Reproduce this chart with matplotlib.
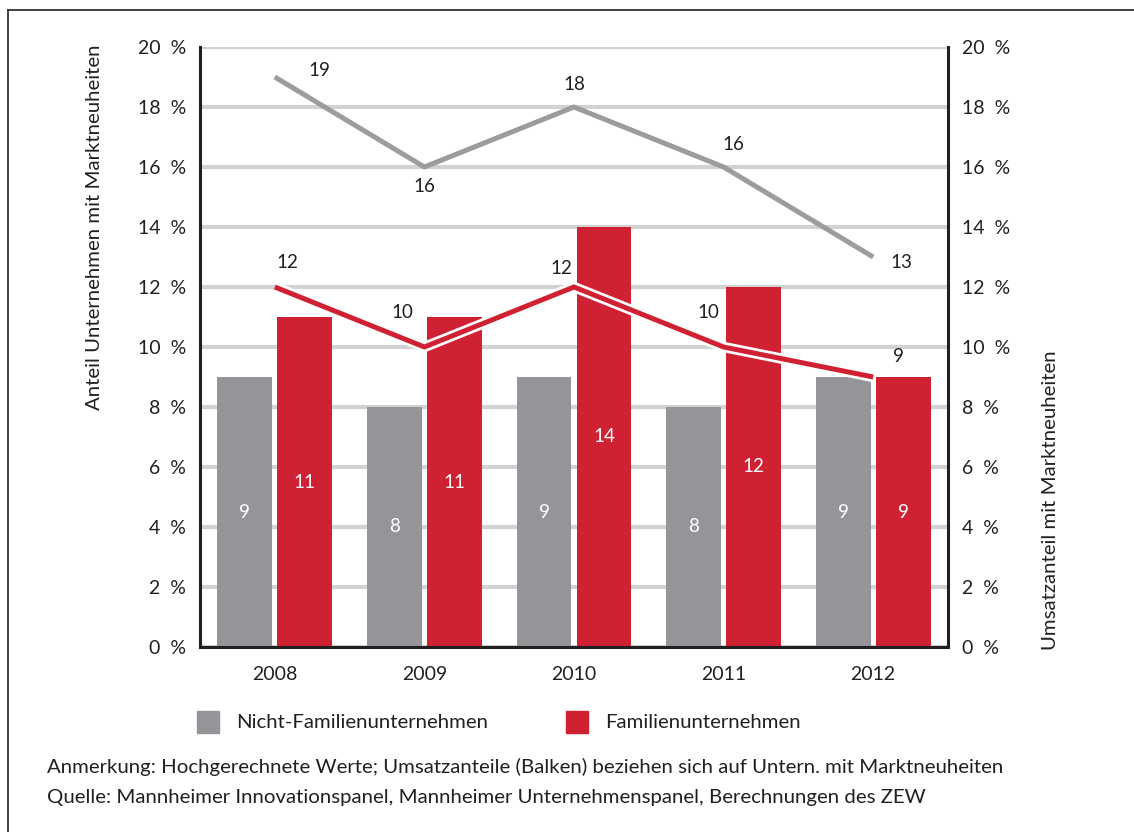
import numpy as np
import matplotlib
matplotlib.use("Agg")
from matplotlib import pyplot as plt
from matplotlib import patheffects as pe
from matplotlib.patches import Rectangle
from matplotlib.lines import Line2D

years = ['2008', '2009', '2010', '2011', '2012']
# bars: Umsatzanteil mit Marktneuheiten (%)
umsatz_nicht_fam = [9, 8, 9, 8, 9]
umsatz_fam = [11, 11, 14, 12, 9]
# lines: Anteil Unternehmen mit Marktneuheiten (%)
anteil_nicht_fam = [19, 16, 18, 16, 13]
anteil_fam = [12, 10, 12, 10, 9]
yticks = [0, 2, 4, 6, 8, 10, 12, 14, 16, 18, 20]

GRAY_BAR = '#939598'
GRAY_LINE = '#9c9c9e'
RED = '#d02133'
TXT = '#231f20'

plt.rcParams['font.family'] = ['Lato', 'DejaVu Sans']

fig = plt.figure(figsize=(11.34, 8.32), dpi=100)
ax = fig.add_axes([200 / 1134, 1 - 647 / 832, 748 / 1134, 600 / 832])

x = np.arange(len(years))
w = 0.367
b1 = ax.bar(x - w / 2 - 0.017, umsatz_nicht_fam, w, color=GRAY_BAR, zorder=2)
b2 = ax.bar(x + w / 2 + 0.017, umsatz_fam, w, color=RED, zorder=2)
for bars, vals in ((b1, umsatz_nicht_fam), (b2, umsatz_fam)):
    for r, v in zip(bars, vals):
        ax.text(r.get_x() + r.get_width() / 2, v / 2, str(v), color='white',
                ha='center', va='center', fontsize=13.5, zorder=3)

ax.plot(x, anteil_nicht_fam, color=GRAY_LINE, lw=3.6, zorder=4, solid_capstyle='butt')
ax.plot(x, anteil_fam, color=RED, lw=3.6, zorder=4, solid_capstyle='butt',
        path_effects=[pe.Stroke(linewidth=7.5, foreground='white'), pe.Normal()])

gray_off = [(45, 7), (0, -20), (0, 22), (10, 22), (28, -6)]
red_off = [(13, 25), (-22, 35), (-13, 19), (-15, 35), (25, 21)]
for xi, v, off in zip(x, anteil_nicht_fam, gray_off):
    ax.annotate(str(v), (xi, v), xytext=off, textcoords='offset pixels',
                ha='center', va='center', fontsize=13.5, color=TXT, zorder=5)
for xi, v, off in zip(x, anteil_fam, red_off):
    ax.annotate(str(v), (xi, v), xytext=off, textcoords='offset pixels',
                ha='center', va='center', fontsize=13.5, color=TXT, zorder=5)

ax.set_xlim(-0.5, 4.5)
ax.set_ylim(0, 20)
ax.set_xticks(x)
ax.set_xticklabels(years)
ax.set_yticks(yticks)
ax.set_yticklabels([f'{t}  %' for t in yticks])
ax.tick_params(axis='y', length=0, pad=10, labelsize=14, labelcolor=TXT,
               labelleft=True, labelright=True)
ax.tick_params(axis='x', length=0, pad=14, labelsize=14, labelcolor=TXT)
ax.grid(axis='y', color='#d2d2d2', lw=3, zorder=0)
ax.set_axisbelow(True)
ax.spines['top'].set_visible(False)
for s in ('left', 'right', 'bottom'):
    ax.spines[s].set_linewidth(2.2)
    ax.spines[s].set_color(TXT)
    ax.spines[s].set_zorder(6)

fig.text(95 / 1134, 1 - 45 / 832, 'Anteil Unternehmen mit Marktneuheiten', rotation=90,
         ha='center', va='top', fontsize=14.7, color=TXT)
fig.text(1050 / 1134, 1 - 650 / 832, 'Umsatzanteil mit Marktneuheiten', rotation=90,
         ha='center', va='bottom', fontsize=14.7, color=TXT)

# legend
fig.patches.append(Rectangle((197 / 1134, 1 - 733 / 832), 22 / 1134, 22 / 832,
                             transform=fig.transFigure, color=GRAY_BAR))
fig.text(236 / 1134, 1 - 722 / 832, 'Nicht-Familienunternehmen', va='center',
         fontsize=14.7, color=TXT)
fig.patches.append(Rectangle((566 / 1134, 1 - 733 / 832), 22 / 1134, 22 / 832,
                             transform=fig.transFigure, color=RED))
fig.text(605 / 1134, 1 - 722 / 832, 'Familienunternehmen', va='center',
         fontsize=14.7, color=TXT)

fig.text(47 / 1134, 1 - 767 / 832,
         'Anmerkung: Hochgerechnete Werte; Umsatzanteile (Balken) beziehen sich auf Untern. mit Marktneuheiten',
         va='center', fontsize=14.7, color=TXT)
fig.text(47 / 1134, 1 - 797 / 832,
         'Quelle: Mannheimer Innovationspanel, Mannheimer Unternehmenspanel, Berechnungen des ZEW',
         va='center', fontsize=14.7, color=TXT)

# outer frame (top and left edges)
fig.lines.append(Line2D([8 / 1134, 1], [1 - 10 / 832, 1 - 10 / 832], transform=fig.transFigure,
                        color='#333333', lw=1.3))
fig.lines.append(Line2D([8 / 1134, 8 / 1134], [0, 1 - 10 / 832], transform=fig.transFigure,
                        color='#333333', lw=1.3))

fig.savefig('out.png', dpi=100)
